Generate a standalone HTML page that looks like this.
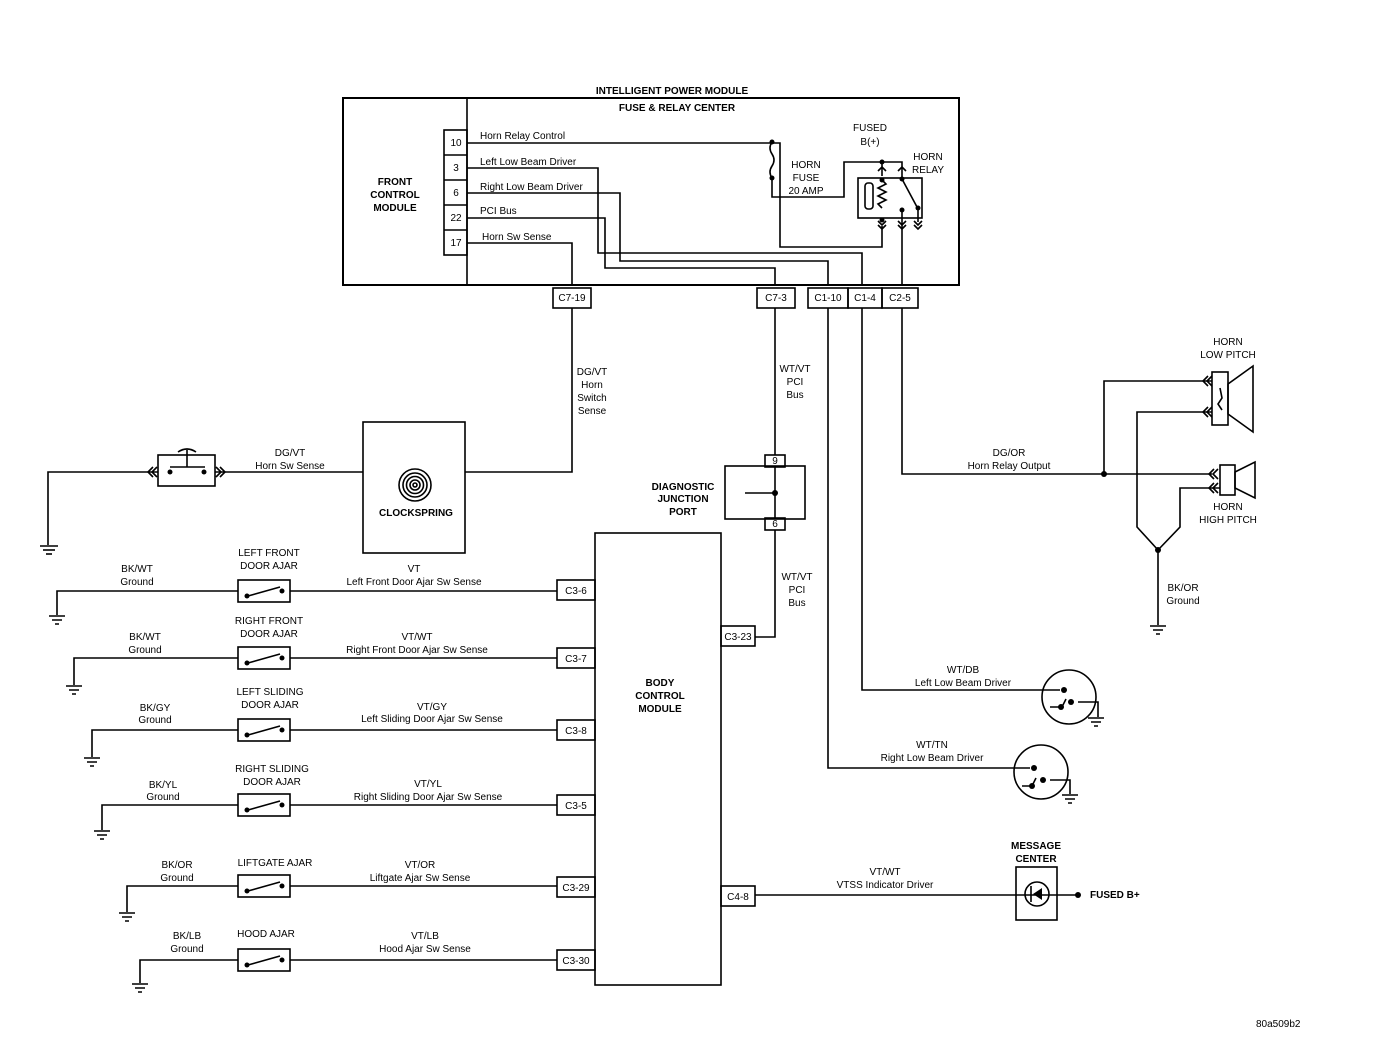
<!DOCTYPE html>
<html><head><meta charset="utf-8"><style>
html,body{margin:0;padding:0;background:#fff;}
svg{display:block;}
text{font-family:"Liberation Sans",sans-serif;font-size:10px;fill:#000;}
.b{font-weight:bold;}
.m{text-anchor:middle;}
</style></head><body>
<svg width="1376" height="1054" viewBox="0 0 1376 1054" xmlns="http://www.w3.org/2000/svg">
<g fill="none" stroke="#000" stroke-width="1.6">
<!-- IPM -->
<rect x="343" y="98" width="616" height="187" stroke-width="2"/>
<line x1="467" y1="98" x2="467" y2="285"/>
<rect x="444" y="130" width="23" height="125"/>
<line x1="444" y1="155" x2="467" y2="155"/><line x1="444" y1="180" x2="467" y2="180"/><line x1="444" y1="205" x2="467" y2="205"/><line x1="444" y1="230" x2="467" y2="230"/>
<polyline points="467,143 780,143 780,247 882,247 882,226"/>
<polyline points="467,168 598,168 598,253 862,253 862,285"/>
<polyline points="467,193 620,193 620,261 828,261 828,285"/>
<polyline points="467,218 605,218 605,268 775,268 775,285"/>
<polyline points="467,243 572,243 572,285"/>
<!-- fuse -->
<path d="M772,142 q-4,6 0,12 q4,6 0,12 q-4,6 0,12 M772,178 L772,197 L844,197 L844,162 L902,162 L902,177"/>
<line x1="882" y1="162" x2="882" y2="176"/>
<rect x="858" y="178" width="64" height="40"/>
<path d="M882,180 l4,4 l-8,4 l8,4 l-8,4 l8,4 l-8,4 l4,4"/>
<rect x="865" y="183" width="8" height="26" rx="3"/>
<line x1="902" y1="179" x2="917" y2="207"/>
<path d="M878,171 l4,-4 l4,4 M898,171 l4,-4 l4,4 M878,225 l4,4 l4,-4 M898,225 l4,4 l4,-4 M914,225 l4,4 l4,-4 M878,221 l4,4 l4,-4 M898,221 l4,4 l4,-4 M914,221 l4,4 l4,-4"/>
<line x1="902" y1="210" x2="902" y2="285"/><line x1="918" y1="208" x2="918" y2="222"/>
<!-- connectors under IPM -->
<rect x="553" y="288" width="38" height="20"/>
<rect x="757" y="288" width="38" height="20"/>
<rect x="808" y="288" width="40" height="20"/>
<rect x="848" y="288" width="34" height="20"/>
<rect x="882" y="288" width="36" height="20"/>
<polyline points="572,308 572,472 465,472"/>
<line x1="775" y1="308" x2="775" y2="455"/>
<polyline points="828,308 828,768 1014,768"/>
<polyline points="862,308 862,690 1044,690"/>
<polyline points="902,308 902,474 1212,474"/>
<!-- clockspring -->
<rect x="363" y="422" width="102" height="131"/>
<circle cx="415" cy="485" r="16"/><circle cx="415" cy="485" r="12"/><circle cx="415" cy="485" r="8.5"/><circle cx="415" cy="485" r="5"/><circle cx="415" cy="485" r="2"/>
<!-- horn switch -->
<rect x="158" y="455" width="57" height="31"/>
<line x1="170" y1="467" x2="205" y2="467"/>
<line x1="187" y1="467" x2="187" y2="450"/><path d="M178,452 q9,-6 18,0"/>
<polyline points="158,472 48,472 48,545"/>
<line x1="215" y1="472" x2="363" y2="472"/>
<path d="M157,467 l-5,5 l5,5 M153,467 l-5,5 l5,5 M216,467 l5,5 l-5,5 M220,467 l5,5 l-5,5"/>
<line x1="40" y1="546" x2="58" y2="546"/><line x1="43" y1="550" x2="55" y2="550"/><line x1="46" y1="554" x2="52" y2="554"/>
<!-- DJP -->
<rect x="725" y="466" width="80" height="53"/>
<rect x="765" y="455" width="20" height="12"/><rect x="765" y="518" width="20" height="12"/>
<line x1="775" y1="467" x2="775" y2="518"/><line x1="745" y1="493" x2="775" y2="493"/>
<polyline points="775,530 775,637 755,637"/>
<!-- BCM -->
<rect x="595" y="533" width="126" height="452"/>
<rect x="557" y="580" width="38" height="20"/>
<rect x="557" y="648" width="38" height="20"/>
<rect x="557" y="720" width="38" height="20"/>
<rect x="557" y="795" width="38" height="20"/>
<rect x="557" y="877" width="38" height="20"/>
<rect x="557" y="950" width="38" height="20"/>
<rect x="721" y="626" width="34" height="20"/>
<rect x="721" y="886" width="34" height="20"/>
<!-- switch rows -->
<polyline points="290,591 557,591"/><polyline points="238,591 57,591 57,615"/><rect x="238" y="580" width="52" height="22"/><line x1="248" y1="596" x2="280" y2="587"/>
<polyline points="290,658 557,658"/><polyline points="238,658 74,658 74,685"/><rect x="238" y="647" width="52" height="22"/><line x1="248" y1="663" x2="280" y2="654"/>
<polyline points="290,730 557,730"/><polyline points="238,730 92,730 92,757"/><rect x="238" y="719" width="52" height="22"/><line x1="248" y1="735" x2="280" y2="726"/>
<polyline points="290,805 557,805"/><polyline points="238,805 102,805 102,830"/><rect x="238" y="794" width="52" height="22"/><line x1="248" y1="810" x2="280" y2="801"/>
<polyline points="290,886 557,886"/><polyline points="238,886 127,886 127,912"/><rect x="238" y="875" width="52" height="22"/><line x1="248" y1="891" x2="280" y2="882"/>
<polyline points="290,960 557,960"/><polyline points="238,960 140,960 140,983"/><rect x="238" y="949" width="52" height="22"/><line x1="248" y1="965" x2="280" y2="956"/>
<path d="M49,616h16M52,620h10M55,624h4 M66,686h16M69,690h10M72,694h4 M84,758h16M87,762h10M90,766h4 M94,831h16M97,835h10M100,839h4 M119,913h16M122,917h10M125,921h4 M132,984h16M135,988h10M138,992h4"/>
<!-- horns -->
<polyline points="1104,474 1104,381 1212,381"/>
<polyline points="1212,412 1137,412 1137,527 1158,550 1180,527 1180,488 1220,488"/>
<line x1="1158" y1="550" x2="1158" y2="625"/>
<path d="M1150,626h16M1153,630h10M1156,634h4"/>
<rect x="1212" y="372" width="16" height="53"/>
<polygon points="1228,384 1253,366 1253,432 1228,414"/>
<path d="M1212,376 l-5,5 l5,5 M1208,376 l-5,5 l5,5 M1212,407 l-5,5 l5,5 M1208,407 l-5,5 l5,5 M1220,388 l2,10 l-4,6 l4,6"/>
<rect x="1220" y="465" width="15" height="30"/>
<polygon points="1235,472 1255,462 1255,498 1235,488"/>
<path d="M1218,469 l-5,5 l5,5 M1214,469 l-5,5 l5,5 M1218,483 l-5,5 l5,5 M1214,483 l-5,5 l5,5"/>
<!-- lamps -->
<circle cx="1069" cy="697" r="27"/>
<path d="M1044,690 h16 M1050,707 h12 l4,-8 M1078,702 h20 v15"/>
<path d="M1088,718h16M1091,722h10M1094,726h4"/>
<circle cx="1041" cy="772" r="27"/>
<path d="M1014,768 h16 M1022,786 h10 l4,-8 M1050,780 h20 v14"/>
<path d="M1062,795h16M1065,799h10M1068,803h4"/>
<!-- message center -->
<line x1="755" y1="895" x2="1078" y2="895"/>
<rect x="1016" y="867" width="41" height="53"/>
<circle cx="1037" cy="894" r="12"/>
<line x1="1031" y1="886" x2="1031" y2="902"/>
</g>
<g fill="#000">
<circle cx="882" cy="162" r="2.5"/><circle cx="772" cy="142" r="2.5"/><circle cx="772" cy="178" r="2.5"/>
<circle cx="882" cy="180" r="2.5"/><circle cx="882" cy="220" r="2.5"/><circle cx="902" cy="179" r="2.5"/><circle cx="902" cy="210" r="2.5"/><circle cx="918" cy="208" r="2.5"/>
<circle cx="170" cy="472" r="2.5"/><circle cx="204" cy="472" r="2.5"/>
<circle cx="775" cy="493" r="3"/>
<circle cx="1104" cy="474" r="3"/><circle cx="1158" cy="550" r="3"/>
<circle cx="1078" cy="895" r="3"/>
<polygon points="1042,888 1042,900 1033,894"/>
<circle cx="1064" cy="690" r="3"/><circle cx="1071" cy="702" r="3"/><circle cx="1061" cy="707" r="3"/>
<circle cx="1034" cy="768" r="3"/><circle cx="1043" cy="780" r="3"/><circle cx="1032" cy="786" r="3"/>
<circle cx="247" cy="596" r="2.5"/><circle cx="282" cy="591" r="2.5"/>
<circle cx="247" cy="663" r="2.5"/><circle cx="282" cy="658" r="2.5"/>
<circle cx="247" cy="735" r="2.5"/><circle cx="282" cy="730" r="2.5"/>
<circle cx="247" cy="810" r="2.5"/><circle cx="282" cy="805" r="2.5"/>
<circle cx="247" cy="891" r="2.5"/><circle cx="282" cy="886" r="2.5"/>
<circle cx="247" cy="965" r="2.5"/><circle cx="282" cy="960" r="2.5"/>
</g>
<!-- text -->
<text class="b m" x="672" y="94">INTELLIGENT POWER MODULE</text>
<text class="b m" x="677" y="111">FUSE &amp; RELAY CENTER</text>
<text class="b m" x="395" y="185">FRONT</text><text class="b m" x="395" y="198">CONTROL</text><text class="b m" x="395" y="211">MODULE</text>
<text class="m" x="456" y="146">10</text><text class="m" x="456" y="171">3</text><text class="m" x="456" y="196">6</text><text class="m" x="456" y="221">22</text><text class="m" x="456" y="246">17</text>
<text x="480" y="139">Horn Relay Control</text>
<text x="480" y="165">Left Low Beam Driver</text>
<text x="480" y="190">Right Low Beam Driver</text>
<text x="480" y="214">PCI Bus</text>
<text x="482" y="240">Horn Sw Sense</text>
<text class="m" x="870" y="131">FUSED</text><text class="m" x="870" y="145">B(+)</text>
<text class="m" x="928" y="160">HORN</text><text class="m" x="928" y="173">RELAY</text>
<text class="m" x="806" y="168">HORN</text><text class="m" x="806" y="181">FUSE</text><text class="m" x="806" y="194">20 AMP</text>
<text class="m" x="572" y="301">C7-19</text><text class="m" x="776" y="301">C7-3</text><text class="m" x="828" y="301">C1-10</text><text class="m" x="865" y="301">C1-4</text><text class="m" x="900" y="301">C2-5</text>
<text class="m" x="592" y="375">DG/VT</text><text class="m" x="592" y="388">Horn</text><text class="m" x="592" y="401">Switch</text><text class="m" x="592" y="414">Sense</text>
<text class="m" x="795" y="372">WT/VT</text><text class="m" x="795" y="385">PCI</text><text class="m" x="795" y="398">Bus</text>
<text class="m" x="290" y="456">DG/VT</text><text class="m" x="290" y="469">Horn Sw Sense</text>
<text class="b m" x="416" y="516">CLOCKSPRING</text>
<text class="m" x="775" y="464">9</text><text class="m" x="775" y="527">6</text>
<text class="b m" x="683" y="490">DIAGNOSTIC</text><text class="b m" x="683" y="502">JUNCTION</text><text class="b m" x="683" y="515">PORT</text>
<text class="m" x="797" y="580">WT/VT</text><text class="m" x="797" y="593">PCI</text><text class="m" x="797" y="606">Bus</text>
<text class="b m" x="660" y="686">BODY</text><text class="b m" x="660" y="699">CONTROL</text><text class="b m" x="660" y="712">MODULE</text>
<text class="m" x="576" y="594">C3-6</text><text class="m" x="576" y="662">C3-7</text><text class="m" x="576" y="734">C3-8</text><text class="m" x="576" y="809">C3-5</text><text class="m" x="576" y="891">C3-29</text><text class="m" x="576" y="964">C3-30</text>
<text class="m" x="738" y="640">C3-23</text><text class="m" x="738" y="900">C4-8</text>
<text class="m" x="137" y="572">BK/WT</text><text class="m" x="137" y="585">Ground</text>
<text class="m" x="269" y="556">LEFT FRONT</text><text class="m" x="269" y="569">DOOR AJAR</text>
<text class="m" x="414" y="572">VT</text><text class="m" x="414" y="585">Left Front Door Ajar Sw Sense</text>
<text class="m" x="145" y="640">BK/WT</text><text class="m" x="145" y="653">Ground</text>
<text class="m" x="269" y="624">RIGHT FRONT</text><text class="m" x="269" y="637">DOOR AJAR</text>
<text class="m" x="417" y="640">VT/WT</text><text class="m" x="417" y="653">Right Front Door Ajar Sw Sense</text>
<text class="m" x="155" y="711">BK/GY</text><text class="m" x="155" y="723">Ground</text>
<text class="m" x="270" y="695">LEFT SLIDING</text><text class="m" x="270" y="708">DOOR AJAR</text>
<text class="m" x="432" y="710">VT/GY</text><text class="m" x="432" y="722">Left Sliding Door Ajar Sw Sense</text>
<text class="m" x="163" y="788">BK/YL</text><text class="m" x="163" y="800">Ground</text>
<text class="m" x="272" y="772">RIGHT SLIDING</text><text class="m" x="272" y="785">DOOR AJAR</text>
<text class="m" x="428" y="787">VT/YL</text><text class="m" x="428" y="800">Right Sliding Door Ajar Sw Sense</text>
<text class="m" x="177" y="868">BK/OR</text><text class="m" x="177" y="881">Ground</text>
<text class="m" x="275" y="866">LIFTGATE AJAR</text>
<text class="m" x="420" y="868">VT/OR</text><text class="m" x="420" y="881">Liftgate Ajar Sw Sense</text>
<text class="m" x="187" y="939">BK/LB</text><text class="m" x="187" y="952">Ground</text>
<text class="m" x="266" y="937">HOOD AJAR</text>
<text class="m" x="425" y="939">VT/LB</text><text class="m" x="425" y="952">Hood Ajar Sw Sense</text>
<text class="m" x="1009" y="456">DG/OR</text><text class="m" x="1009" y="469">Horn Relay Output</text>
<text class="m" x="1228" y="345">HORN</text><text class="m" x="1228" y="358">LOW PITCH</text>
<text class="m" x="1228" y="510">HORN</text><text class="m" x="1228" y="523">HIGH PITCH</text>
<text class="m" x="1183" y="591">BK/OR</text><text class="m" x="1183" y="604">Ground</text>
<text class="m" x="963" y="673">WT/DB</text><text class="m" x="963" y="686">Left Low Beam Driver</text>
<text class="m" x="932" y="748">WT/TN</text><text class="m" x="932" y="761">Right Low Beam Driver</text>
<text class="b m" x="1036" y="849">MESSAGE</text><text class="b m" x="1036" y="862">CENTER</text>
<text class="b" x="1090" y="898">FUSED B+</text>
<text class="m" x="885" y="875">VT/WT</text><text class="m" x="885" y="888">VTSS Indicator Driver</text>
<text x="1256" y="1027">80a509b2</text>
</svg>
</body></html>
